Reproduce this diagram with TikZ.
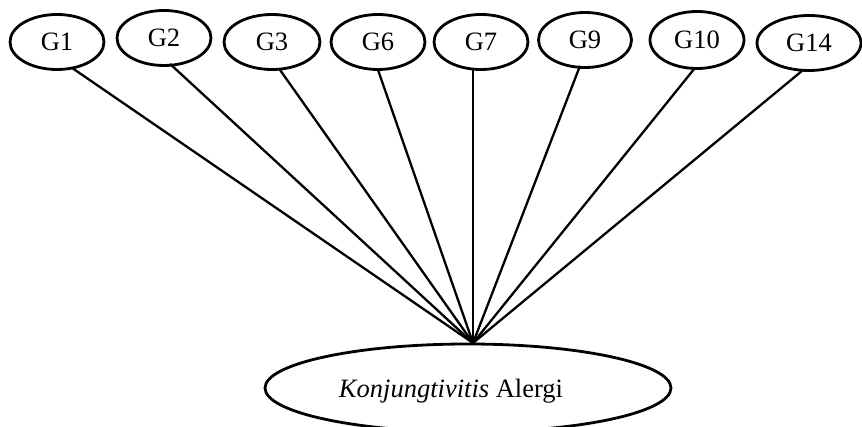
\documentclass[tikz,border=0pt]{standalone}
\usepackage{fontspec}
\setmainfont{Liberation Serif}
\usetikzlibrary{shapes.geometric}
\begin{document}
\begin{tikzpicture}[x=1pt,y=-1pt,
  gejala/.style={draw, ellipse, line width=2.8pt, inner sep=0pt,
    minimum width=94pt, minimum height=55pt,
    font=\fontsize{26.5}{30}\selectfont},
  penyakit/.style={draw, ellipse, line width=2.8pt, inner sep=0pt,
    minimum width=406pt, minimum height=88pt},
  link/.style={line width=2.3pt}]
\useasboundingbox (0,0) rectangle (862,427);
% symptom nodes
\node[gejala] (G1)  at (57,42)  {G1};
\node[gejala] (G2)  at (164,38) {G2};
\node[gejala, minimum width=96pt] (G3)  at (272,42) {G3};
\node[gejala] (G6)  at (378,42) {G6};
\node[gejala] (G7)  at (481,42) {G7};
\node[gejala, minimum width=93pt] (G9)  at (585,40) {G9};
\node[gejala, minimum height=57pt] (G10) at (697,40) {G10};
\node[gejala, minimum width=104pt] (G14) at (809,43) {G14};
% disease node
\node[penyakit] (K) at (468,388) {};
\node[font=\fontsize{26.5}{30}\selectfont, inner sep=0pt] (KL) at (451,391) {\textit{Konjungtivitis} Alergi};
\coordinate (hub) at (473,343);
% rule links
\draw[link] ([xshift=15pt,yshift=3pt]G1.south) -- (hub);
\draw[link] ([xshift=6pt,yshift=3pt]G2.south) -- (hub);
\draw[link] ([xshift=8pt,yshift=1pt]G3.south) -- (hub);
\draw[link] ([xshift=0pt,yshift=1pt]G6.south) -- (hub);
\draw[link] ([xshift=-8pt,yshift=3pt]G7.south) -- (hub);
\draw[link] ([xshift=-5pt,yshift=3pt]G9.south) -- (hub);
\draw[link] ([xshift=-2pt,yshift=2pt]G10.south) -- (hub);
\draw[link] ([xshift=-7pt,yshift=1pt]G14.south) -- (hub);
\end{tikzpicture}
\end{document}
